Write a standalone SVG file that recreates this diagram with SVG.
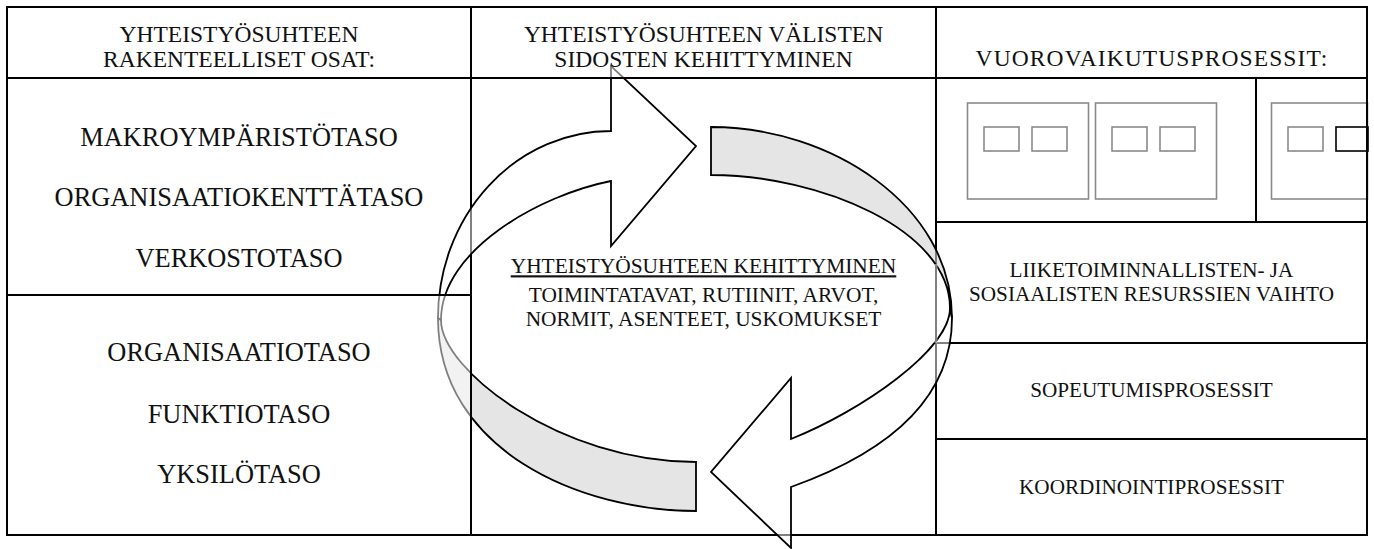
<svg xmlns="http://www.w3.org/2000/svg" width="1374" height="549" viewBox="0 0 1374 549">
  <style>
    .rule{fill:none;stroke:#000;stroke-width:2;stroke-linecap:square}
    .frame{fill:none;stroke:#8a8a8a;stroke-width:1.6}
    .frame-dark{fill:none;stroke:#000;stroke-width:1.6}
    .t{font-family:"Liberation Serif","Times New Roman",serif;fill:#111;text-anchor:middle}
    .hd{font-size:23.5px}
    .lv{font-size:26.4px}
    .md{font-size:21.4px}
    .pr{font-size:21.2px}
    .back{fill:#d4d4d4;fill-opacity:.6;stroke:#000;stroke-width:1.8;stroke-linejoin:miter}
    .front{fill:#fff;fill-opacity:.5;stroke:#000;stroke-width:1.8;stroke-linejoin:miter}
    .veil{fill:#fff;fill-opacity:.5;stroke:none}
  </style>
  <rect width="1374" height="549" fill="#fff"/>

  <!-- small frames in the interaction cell -->
  <g id="interaction-frames">
    <rect class="frame" x="967.5" y="103" width="121" height="96"/>
    <rect class="frame" x="984" y="127" width="35" height="24"/>
    <rect class="frame" x="1032" y="127" width="35" height="24"/>
    <rect class="frame" x="1095.5" y="103" width="121" height="96"/>
    <rect class="frame" x="1112" y="127" width="35" height="24"/>
    <rect class="frame" x="1160" y="127" width="35" height="24"/>
    <rect class="frame" x="1271.5" y="103" width="96" height="96"/>
    <rect class="frame" x="1288" y="127" width="35" height="24"/>
    <rect class="frame-dark" x="1336" y="127" width="32" height="24"/>
  </g>

  <!-- table grid -->
  <g id="grid">
    <path class="rule" d="M7,7H1367V535H7Z M7,78H1367 M471,7V535 M936,7V535 M7,295H471 M936,222H1367 M1256,78V222 M936,343H1367 M936,439H1367"/>
  </g>

  <!-- cycle of two curved arrows -->
  <g id="connectors">
    <g id="arrow-upper">
      <path class="back" d="M438,318 C438,450 580,511 696,511 L696,462 C560,462 441,370 441,320 Z"/>
      <path class="front" d="M441,320 C441,250 540,195 611,181 L611,246 L696,146 L611,66 L611,131 A173,187 0 0 0 438,318 Z"/>
    </g>
    <g id="arrow-lower">
      <path class="back" d="M711,127 C830,127 952,205 952,318 L950,308 C950,230 820,175 711,175 Z"/>
      <path class="front" d="M950,308 C950,350 861,411 791,439 L791,378 L711,472 L791,548 L791,487 C861,462 952,415 952,318 Z"/>
    </g>
  </g>

  <!-- cells lying over the arrows -->
  <g id="overlay-cells">
    <rect class="veil" x="471" y="7" width="465" height="71"/>
    <rect class="veil" x="7" y="295" width="464" height="240"/>
    <rect class="veil" x="934.5" y="264" width="3" height="79"/>
    <path class="rule" d="M471,7H936 M471,78H936 M471,7V78 M936,7V78 M7,295H471V535H7Z"/>
  </g>

  <g id="head-structure">
    <text class="t hd" x="239" y="41.5">YHTEISTYÖSUHTEEN</text>
    <text class="t hd" x="239" y="66.5">RAKENTEELLISET OSAT:</text>
  </g>
  <g id="head-bonds">
    <text class="t hd" x="703.5" y="41.5">YHTEISTYÖSUHTEEN VÄLISTEN</text>
    <text class="t hd" x="703.5" y="67">SIDOSTEN KEHITTYMINEN</text>
  </g>
  <g id="head-interaction">
    <text class="t hd" x="1152" y="66" letter-spacing="1.1">VUOROVAIKUTUSPROSESSIT:</text>
  </g>

  <g id="levels-upper">
    <text class="t lv" x="239" y="146">MAKROYMPÄRISTÖTASO</text>
    <text class="t lv" x="239" y="206">ORGANISAATIOKENTTÄTASO</text>
    <text class="t lv" x="239" y="267">VERKOSTOTASO</text>
  </g>
  <g id="levels-lower">
    <text class="t lv" x="239" y="361">ORGANISAATIOTASO</text>
    <text class="t lv" x="239" y="422.5">FUNKTIOTASO</text>
    <text class="t lv" x="239" y="483">YKSILÖTASO</text>
  </g>

  <g id="development">
    <text class="t md" x="703.5" y="273.3" text-decoration="underline">YHTEISTYÖSUHTEEN KEHITTYMINEN</text>
    <text class="t md" x="703.5" y="301.7">TOIMINTATAVAT, RUTIINIT, ARVOT,</text>
    <text class="t md" x="703.5" y="325.5">NORMIT, ASENTEET, USKOMUKSET</text>
  </g>

  <g id="exchange">
    <text class="t pr" x="1151.5" y="277">LIIKETOIMINNALLISTEN- JA</text>
    <text class="t pr" x="1151.5" y="301">SOSIAALISTEN RESURSSIEN VAIHTO</text>
  </g>
  <g id="adaptation">
    <text class="t pr" x="1151.5" y="397">SOPEUTUMISPROSESSIT</text>
  </g>
  <g id="coordination">
    <text class="t pr" x="1151.5" y="494">KOORDINOINTIPROSESSIT</text>
  </g>
</svg>
